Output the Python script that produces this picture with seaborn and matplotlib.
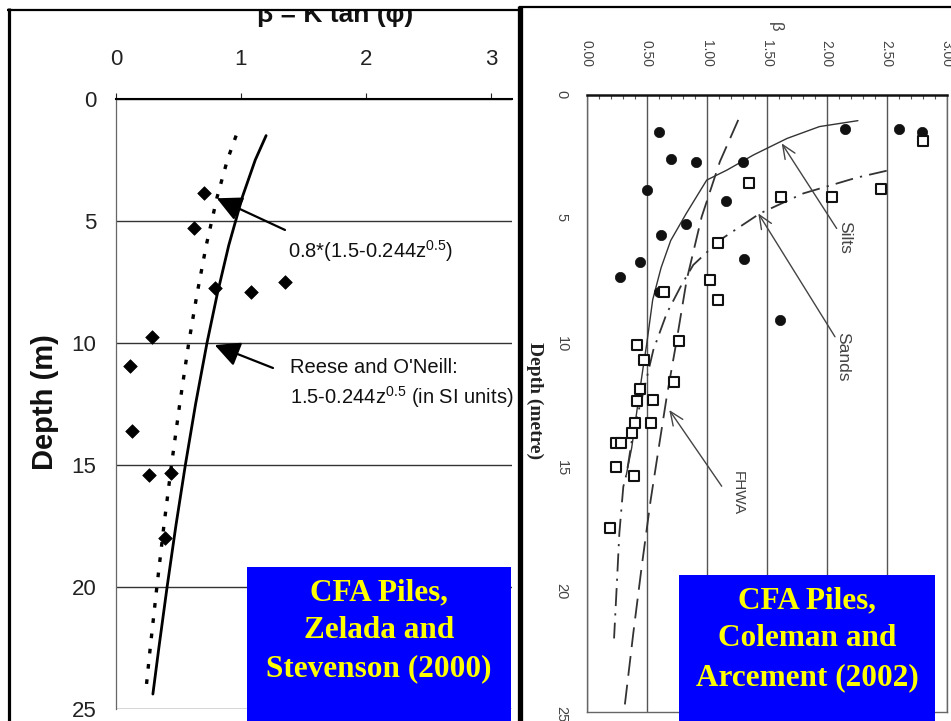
import numpy as np
import matplotlib
matplotlib.use("Agg")
import matplotlib.pyplot as plt
from matplotlib.lines import Line2D
from matplotlib.patches import Rectangle
import seaborn as sns

# ---------------- data: Zelada and Stevenson (2000) ----------------
zs_beta = [0.70, 0.62, 0.79, 1.08, 1.35, 0.29, 0.11, 0.13, 0.26, 0.44, 0.39]
zs_depth = [3.85, 5.28, 7.75, 7.90, 7.50, 9.76, 10.96, 13.60, 15.40, 15.35, 18.00]

curve_depth = [1.5, 2.5, 4.0, 6.0, 8.0, 10.0, 12.5, 15.0, 17.5, 20.0, 22.5, 24.4]
reese_beta = [1.201, 1.114, 1.012, 0.902, 0.810, 0.728, 0.637, 0.555, 0.479, 0.409, 0.343, 0.295]
reduced_beta = [0.961, 0.891, 0.810, 0.722, 0.648, 0.582, 0.510, 0.444, 0.383, 0.327, 0.274, 0.236]

left_xticks = [0, 1, 2, 3]
left_yticks = [0, 5, 10, 15, 20, 25]

# ---------------- data: Coleman and Arcement (2002) ----------------
silt_beta = [0.605, 0.70, 0.91, 1.305, 0.50, 1.16, 0.83, 0.62, 0.44, 1.31, 0.28, 1.61,
             2.15, 2.60, 2.79, 0.605]
silt_depth = [1.51, 2.61, 2.72, 2.72, 3.85, 4.30, 5.23, 5.68, 6.76, 6.65, 7.39, 9.12,
              1.38, 1.38, 1.49, 7.98]

sand_beta = [2.80, 1.35, 1.62, 2.04, 2.45, 1.09, 1.03, 1.09, 0.645, 0.417, 0.77, 0.48,
             0.73, 0.444, 0.417, 0.555, 0.40, 0.536, 0.377, 0.245, 0.285, 0.24, 0.397, 0.19]
sand_depth = [1.87, 3.55, 4.13, 4.13, 3.83, 6.00, 7.50, 8.30, 7.98, 10.14, 9.98, 10.73,
              11.63, 11.93, 12.40, 12.35, 13.30, 13.30, 13.70, 14.10, 14.10, 15.10, 15.45, 17.57]

silts_curve_beta = [2.26, 1.94, 1.67, 1.39, 1.17, 1.00, 0.83, 0.70, 0.62, 0.55, 0.50, 0.47, 0.43, 0.375, 0.33]
silts_curve_depth = [1.04, 1.28, 1.76, 2.43, 3.04, 3.45, 4.80, 5.90, 7.00, 8.30, 10.1, 11.05, 12.4, 14.3, 15.4]

sands_curve_beta = [2.50, 2.25, 1.805, 1.444, 1.11, 0.888, 0.79, 0.667, 0.555, 0.47, 0.39, 0.333,
                    0.305, 0.272, 0.25, 0.228]
sands_curve_depth = [3.07, 3.35, 3.99, 4.80, 5.88, 6.89, 7.70, 8.85, 10.34, 12.1, 13.58, 15.34,
                     15.88, 17.77, 19.94, 22.03]

fhwa_beta = [1.263, 1.11, 0.958, 0.833, 0.75, 0.667, 0.61, 0.533, 0.458, 0.388, 0.311]
fhwa_depth = [1.01, 2.70, 4.94, 7.50, 9.94, 12.23, 14.0, 16.42, 19.13, 21.83, 25.0]

right_xticks = [0.0, 0.5, 1.0, 1.5, 2.0, 2.5, 3.0]
right_xlabels = ["0.00", "0.50", "1.00", "1.50", "2.00", "2.50", "3.00"]
right_yticks = [0, 5, 10, 15, 20, 25]

# ---------------- figure ----------------
W, H = 951, 721
sns.set_style("white")
plt.rcParams["font.family"] = ["Liberation Sans", "DejaVu Sans"]
plt.rcParams["mathtext.default"] = "regular"

fig = plt.figure(figsize=(W / 100, H / 100), dpi=100)
fig.patch.set_facecolor("white")


def fx(px):
    return px / W


def fy(py):
    return 1 - py / H


# ---------------- left panel ----------------
L0, L1, T0, T1 = 116, 512, 99, 708.7
axL = fig.add_axes([fx(L0), fy(T1), (L1 - L0) / W, (T1 - T0) / H])
axL.set_xlim(0, (L1 - L0) / 125)
axL.set_ylim(25, 0)

sns.lineplot(x=reese_beta, y=curve_depth, sort=False, estimator=None, color="black",
             lw=2.0, ax=axL)
sns.lineplot(x=reduced_beta, y=curve_depth, sort=False, estimator=None, color="black",
             lw=2.4, linestyle=(0, (1.4, 3.2)), ax=axL)
sns.scatterplot(x=zs_beta, y=zs_depth, marker="D", s=48, color="black",
                edgecolor="black", linewidth=0.5, ax=axL, zorder=4)

axL.set_yticks(left_yticks)
axL.yaxis.grid(True, color="#333333", lw=1.0)
axL.xaxis.grid(False)
axL.set_xticks(left_xticks)
axL.xaxis.tick_top()
axL.tick_params(axis="x", direction="out", length=4, width=0.8, pad=17, labelsize=16,
                colors="#222222")
axL.tick_params(axis="y", direction="out", length=7, width=0.8, pad=7, labelsize=16,
                colors="#222222")
for side in ("right", "bottom"):
    axL.spines[side].set_visible(False)
axL.spines["top"].set_color("black")
axL.spines["top"].set_linewidth(1.5)
axL.spines["left"].set_color("#666666")
axL.spines["left"].set_linewidth(0.9)
axL.set_xlabel("")
axL.set_ylabel("")

arrow_kw = dict(arrowstyle="-|>,head_length=0.9,head_width=0.45", lw=1.6, color="black",
                mutation_scale=17, shrinkA=0, shrinkB=0)
axL.annotate("", xy=(0.806, 4.07), xytext=(1.352, 5.37), arrowprops=arrow_kw)
axL.annotate("", xy=(0.79, 10.09), xytext=(1.256, 11.03), arrowprops=arrow_kw)
axL.text(1.376, 6.23, r"0.8*(1.5-0.244z$^{0.5}$)", fontsize=14.5, va="center", ha="left",
         color="#111111")
axL.text(1.39, 10.99, "Reese and O'Neill:", fontsize=14.5, va="center", ha="left",
         color="#111111")
axL.text(1.39, 12.24, r"1.5-0.244z$^{0.5}$ (in SI units)", fontsize=14.5, va="center",
         ha="left", color="#111111")

fig.text(fx(45), fy(402), "Depth (m)", rotation=90, ha="center", va="center",
         fontsize=21, fontweight="bold", color="#111111")
fig.text(fx(335), fy(22), "β = K tan (φ)", ha="center", va="baseline", fontsize=19,
         fontweight="bold", color="#111111", zorder=1)

# ---------------- right panel ----------------
R0, R1, U0, U1 = 586.7, 946.7, 95, 711.7
axR = fig.add_axes([fx(R0), fy(U1), (R1 - R0) / W, (U1 - U0) / H])
axR.set_xlim(0, 3)
axR.set_ylim(25, 0)

gray = "#333333"
sns.lineplot(x=silts_curve_beta, y=silts_curve_depth, sort=False, estimator=None,
             color=gray, lw=1.0, ax=axR)
sns.lineplot(x=sands_curve_beta, y=sands_curve_depth, sort=False, estimator=None,
             color=gray, lw=1.3, linestyle=(0, (10, 4, 1.2, 4)), ax=axR)
sns.lineplot(x=fhwa_beta, y=fhwa_depth, sort=False, estimator=None,
             color=gray, lw=1.3, linestyle=(0, (11, 5)), ax=axR)
sns.scatterplot(x=silt_beta, y=silt_depth, marker="o", s=55, color="#111111",
                edgecolor="#111111", linewidth=0.5, ax=axR, zorder=4)
sns.scatterplot(x=sand_beta, y=sand_depth, marker="s", s=45, facecolor="white",
                edgecolor="#111111", linewidth=1.5, ax=axR, zorder=4)

axR.xaxis.tick_top()
axR.set_xticks(right_xticks)
axR.set_xticklabels(right_xlabels)
axR.set_xticks(np.arange(0, 3.0001, 0.1), minor=True)
axR.set_yticks(right_yticks)
axR.set_yticks(np.arange(0, 25.001, 1), minor=True)
axR.xaxis.grid(True, color="#555555", lw=1.0)
axR.yaxis.grid(False)
axR.tick_params(axis="x", which="major", direction="in", length=0, pad=20, labelsize=10,
                labelrotation=-90, colors="#444444")
axR.tick_params(axis="x", which="minor", direction="in", length=3, width=0.8, colors="#555555")
axR.tick_params(axis="y", which="both", direction="in", length=4, width=0.8, colors="#555555")
axR.tick_params(axis="y", which="major", pad=13, labelsize=10.5, labelrotation=-90,
                labelcolor="#444444")
axR.spines["top"].set_color("#111111")
axR.spines["top"].set_linewidth(1.8)
for side in ("left", "right", "bottom"):
    axR.spines[side].set_color("#666666")
    axR.spines[side].set_linewidth(1.0)
axR.set_xlabel("")
axR.set_ylabel("")

thin_arrow = dict(arrowstyle="->,head_length=0.7,head_width=0.3", lw=1.0, color="#444444",
                  mutation_scale=14, shrinkA=0, shrinkB=0)
axR.annotate("", xy=(1.625, 1.96), xytext=(2.083, 5.41), arrowprops=thin_arrow)
axR.annotate("", xy=(1.43, 4.80), xytext=(2.069, 9.80), arrowprops=thin_arrow)
axR.annotate("", xy=(0.688, 12.77), xytext=(1.125, 15.86), arrowprops=thin_arrow)
axR.text(2.153, 5.76, "Silts", rotation=-90, ha="center", va="center", fontsize=12.5,
         color="#444444")
axR.text(2.136, 10.62, "Sands", rotation=-90, ha="center", va="center", fontsize=12.5,
         color="#444444")
axR.text(1.261, 16.14, "FHWA", rotation=-90, ha="center", va="center", fontsize=11,
         color="#444444")

fig.text(fx(775), fy(27), "β", rotation=-90, ha="center", va="center", fontsize=12,
         color="#444444")
fig.text(fx(535), fy(401), "Depth (metre)", rotation=-90, ha="center",
         va="center", fontsize=14, fontweight="bold", family="Liberation Serif",
         color="#222222")

# ---------------- captions ----------------
box_kw = dict(facecolor="#0000FF", edgecolor="none", transform=fig.transFigure, zorder=2)
fig.add_artist(Rectangle((fx(247), fy(721)), (511 - 247) / W, (721 - 567) / H, **box_kw))
fig.add_artist(Rectangle((fx(679), fy(721)), (935 - 679) / W, (721 - 575) / H, **box_kw))

cap_kw = dict(ha="center", va="center", fontsize=22.5, fontweight="bold",
              family="Liberation Serif", color="#FFFF00", zorder=3)
for txt, y in zip(["CFA Piles,", "Zelada and", "Stevenson (2000)"], [593, 631, 669]):
    fig.text(fx(379), fy(y), txt, **cap_kw)
for txt, y in zip(["CFA Piles,", "Coleman and", "Arcement (2002)"], [601, 639, 678]):
    fig.text(fx(807), fy(y), txt, **cap_kw)

# ---------------- frames ----------------
fig.add_artist(Rectangle((0, fy(10.5)), 1, 10.5 / H, facecolor="white", edgecolor="none",
                         transform=fig.transFigure, zorder=5))


def frame_line(x0, y0, x1, y1, lw):
    fig.add_artist(Line2D([fx(x0), fx(x1)], [fy(y0), fy(y1)], color="black", lw=lw,
                          transform=fig.transFigure, zorder=6, solid_capstyle="butt"))


frame_line(7, 9.5, 519, 9.5, 1.6)
frame_line(8.5, 8, 8.5, 721, 2.3)
frame_line(519.5, 6, 519.5, 721, 3.8)
frame_line(519, 7, 951, 7, 1.6)

fig.savefig("out.png", dpi=100, facecolor="white")
